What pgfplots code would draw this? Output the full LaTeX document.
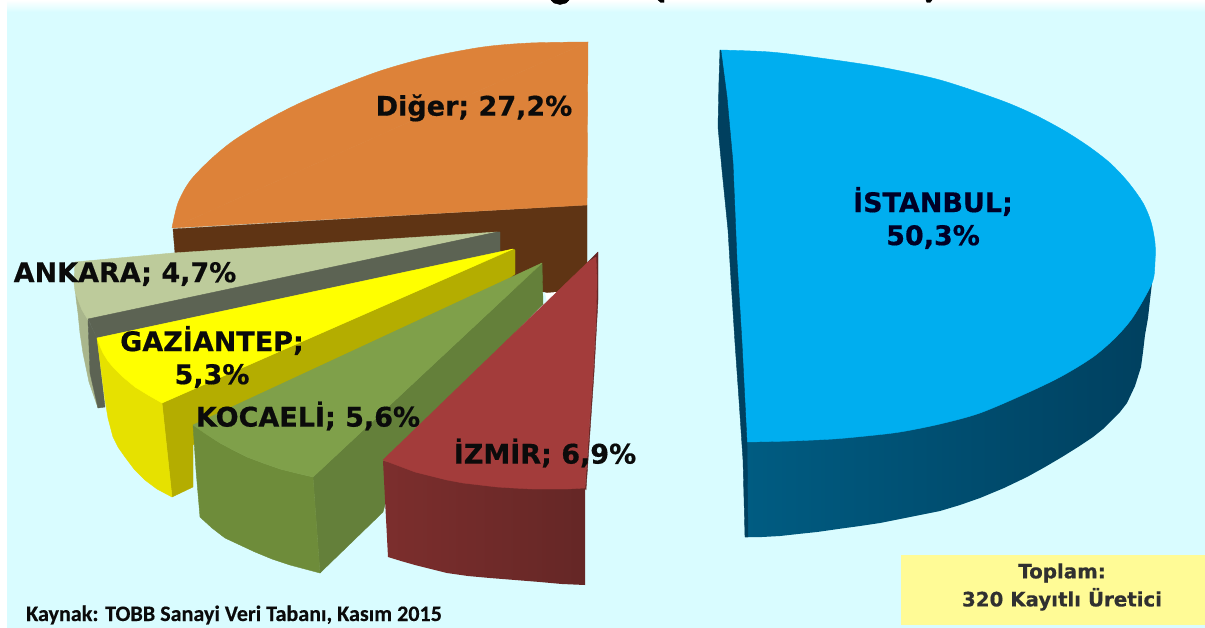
\documentclass[border=0pt]{standalone}
\usepackage{fontspec}
\setmainfont{DejaVu Sans}[BoldFeatures={FakeBold=0.5}]
\newfontfamily\srcfont{Carlito}[BoldFeatures={FakeBold=0.3}]
\usepackage{pgfplots}
\pgfplotsset{compat=1.18}
\definecolor{bg}{HTML}{D9FCFF}
\definecolor{bluetop}{HTML}{00AEEF}
\definecolor{bluea}{HTML}{005C82}
\definecolor{blueb}{HTML}{00405F}
\definecolor{orangetop}{HTML}{DD8239}
\definecolor{orangeside}{HTML}{5F3414}
\definecolor{paletop}{HTML}{BDCB9B}
\definecolor{paleside}{HTML}{A9B68C}
\definecolor{greyside}{HTML}{5C6353}
\definecolor{yellowtop}{HTML}{FFFF00}
\definecolor{yellowside}{HTML}{E6E100}
\definecolor{olive}{HTML}{B4AD00}
\definecolor{greentop}{HTML}{7FA04A}
\definecolor{greenside}{HTML}{6E8C3A}
\definecolor{greenrad}{HTML}{64803A}
\definecolor{redtop}{HTML}{A33C3B}
\definecolor{reda}{HTML}{7C2E2D}
\definecolor{redb}{HTML}{652726}
\definecolor{boxy}{HTML}{FFFB96}
\definecolor{ink}{HTML}{0B0B0B}
\newcommand{\lab}{\fontsize{27}{33}\selectfont\bfseries}
\tikzset{pf/.style={fill=#1,draw=#1,line width=0.4pt,line join=round,line cap=round},cv/.style={smooth,tension=0.5}}
\begin{document}
\begin{tikzpicture}
\path[use as bounding box] (0,0) rectangle (1205pt,628pt);
\clip (0,0) rectangle (1205pt,628pt);
\begin{axis}[at={(0,0)},anchor=south west,width=1205pt,height=628pt,scale only axis,
  xmin=0,xmax=1205,ymin=0,ymax=628,y dir=reverse,hide axis,no markers]
% background
\addplot[fill=bg,draw=none] coordinates {(0,0)(1205,0)(1205,628)(0,628)} -- cycle;
\addplot[draw=none,top color=white,bottom color=bg] coordinates {(0,0)(1205,0)(1205,12)(0,12)} -- cycle;
\addplot[fill=white,draw=none] coordinates {(0,0)(7,0)(7,628)(0,628)} -- cycle;
% remains of the title, cut by the upper edge
\addplot[pf=black] coordinates {(551,0)(569,0)(566,3)(560,4.5)(554,3)} -- cycle;
\addplot[pf=black] coordinates {(658,0)(664,0)(664,2.5)(661,2.5)} -- cycle;
\addplot[pf=black] coordinates {(926,0)(932,0)(930,2.5)(927,2.5)} -- cycle;
% Istanbul
\addplot[draw=none,left color=bluea,right color=blueb] coordinates {(747,430)(1000,400)(1152,283)(1150,300)(1148,318)(1145,335)(1143,352)(1141,367)(1135,386)(1127,403)(1120,412)(1112,420)(1103,429)(1093,437)(1078,447)(1062,457)(1045,467)(1027,477)(1004,488)(980,498)(960,505)(940,511)(920,515)(900,519)(880,523)(860,526)(838,529)(817,532)(798,534)(780,536)(762,537)(745,537)} -- cycle;
\addplot[pf=bluetop,cv] coordinates {(720,50)(770,52)(820,58)(880,67)(940,80)(1000,100)(1033,114)(1063,130)(1088,146)(1110,163)(1128,182)(1143,203)(1151,222)(1155,243)(1155,262)(1152,283)(1133,317)(1115,338)(1093,357)(1062,376)(1027,393)(980,413)(940,424)(900,432)(866,436)(833,439)(790,441)(747,442)} -- cycle;
\addplot[pf=blueb] coordinates {(720,50)(719,80)(718,127)(722,170)(728,230)(731,280)(735,343)(739,400)(743,460)(745,537)(748,537)(747,442)(742,343)(737,260)(733,163)(727,97)(721,51)} -- cycle;
% Diger
\addplot[pf=orangeside] coordinates {(173,229)(587,205)(587,270)(557,296)(545,292)(520,290)(500,285)(480,260)(175,253)} -- cycle;
\addplot[pf=orangetop] coordinates {(172,228)(587,205)(588,42)} -- cycle;
\addplot[pf=orangetop,cv] coordinates {(588,42)(530,43)(483,47)(430,57)(383,70)(340,86)(300,103)(265,121)(233,141)(210,160)(190,181)(178,203)(172,228)} -- cycle;
\addplot[fill=white,draw=none] coordinates {(545,293)(557,292)(547,302)} -- cycle;
% Ankara
\addplot[pf=paleside] coordinates {(75,283)(76,298)(78,313)(80,333)(83,353)(89,382)(98,408)(90,373)(88,320)} -- cycle;
\addplot[pf=paletop] coordinates {(497,232)(173,253)(75,262)(74,283)(75,291)(78,300)(82,310)(88,320)} -- cycle;
\addplot[pf=greyside] coordinates {(88,320)(90,373)(98,408)(105,407)(97,338)} -- cycle;
\addplot[pf=greyside] coordinates {(497,232)(88,319)(97,338)(500,252)(500,232)} -- cycle;
% Gaziantep
\addplot[pf=olive] coordinates {(162,403)(513,249)(515,250)(515,274)(500,285)(193,445)(193,487)(172,497)} -- cycle;
\addplot[pf=yellowside] coordinates {(97,338)(100,345)(133,380)(162,403)(172,497)(157,489)(145,480)(134,469)(125,457)(118,447)(113,437)(108,418)(105,400)(102,377)} -- cycle;
\addplot[pf=yellowtop] coordinates {(513,249)(97,338)(100,346)(103,353)(108,361)(113,367)(123,377)(135,387)(148,395)(162,403)} -- cycle;
% Kocaeli
\addplot[pf=greenrad] coordinates {(313,477)(542,263)(543,304)(400,450)(383,512)(320,573)} -- cycle;
\addplot[pf=greenside] coordinates {(193,425)(196,470)(200,517)(212,528)(225,538)(240,545)(255,552)(272,559)(290,565)(305,569)(320,573)(313,477)(296,473)(280,469)(263,463)(247,457)(233,450)(220,443)(206,434)} -- cycle;
\addplot[pf=greentop] coordinates {(542,263)(193,425)(206,434)(220,443)(233,450)(247,457)(263,463)(280,469)(296,473)(313,477)} -- cycle;
% Izmir
\addplot[draw=none,left color=reda,right color=redb] coordinates {(383,461)(388,557)(401,561)(415,565)(431,569)(447,573)(468,576)(490,578)(515,580)(540,582)(562,584)(585,585)(585,488)} -- cycle;
\addplot[pf=redb] coordinates {(598,252)(598,300)(594,373)(586,490)(585,488)(593,373)(596,320)(588,262)} -- cycle;
\addplot[pf=redtop] coordinates {(596,257)(588,262)(383,460)(399,466)(415,472)(431,476)(447,480)(463,483)(480,485)(497,487)(513,488)(532,489)(550,489)(568,489)(585,488)(589,430)(593,373)(596,320)(597,280)} -- cycle;
% total box
\addplot[draw=none,fill=boxy] coordinates {(901,555)(1205,555)(1205,625)(901,625)} -- cycle;
% labels
\node[text=ink,font=\lab] at (axis cs:474,108) {Diğer; 27,2\%};
\node[font=\lab,align=center,text=black!85!blue] at (axis cs:933,218) {İSTANBUL;\\50,3\%};
\node[text=ink,font=\lab] at (axis cs:125,274) {ANKARA; 4,7\%};
\node[text=ink,font=\lab,align=center] at (axis cs:212,357) {GAZİANTEP;\\5,3\%};
\node[text=ink,font=\lab] at (axis cs:308,416) {KOCAELİ; 5,6\%};
\node[text=ink,font=\lab] at (axis cs:545,453) {İZMİR; 6,9\%};
\node[text=ink!85,font=\fontsize{19.8}{28}\selectfont\bfseries,align=center] at (axis cs:1062,587) {Toplam:\\320 Kayıtlı Üretici};
\node[text=ink,font=\srcfont\fontsize{22.1}{25}\selectfont\bfseries,anchor=base west,inner sep=0pt] at (axis cs:26,621) {Kaynak: TOBB Sanayi Veri Tabanı, Kasım 2015};
\end{axis}
\end{tikzpicture}
\end{document}
